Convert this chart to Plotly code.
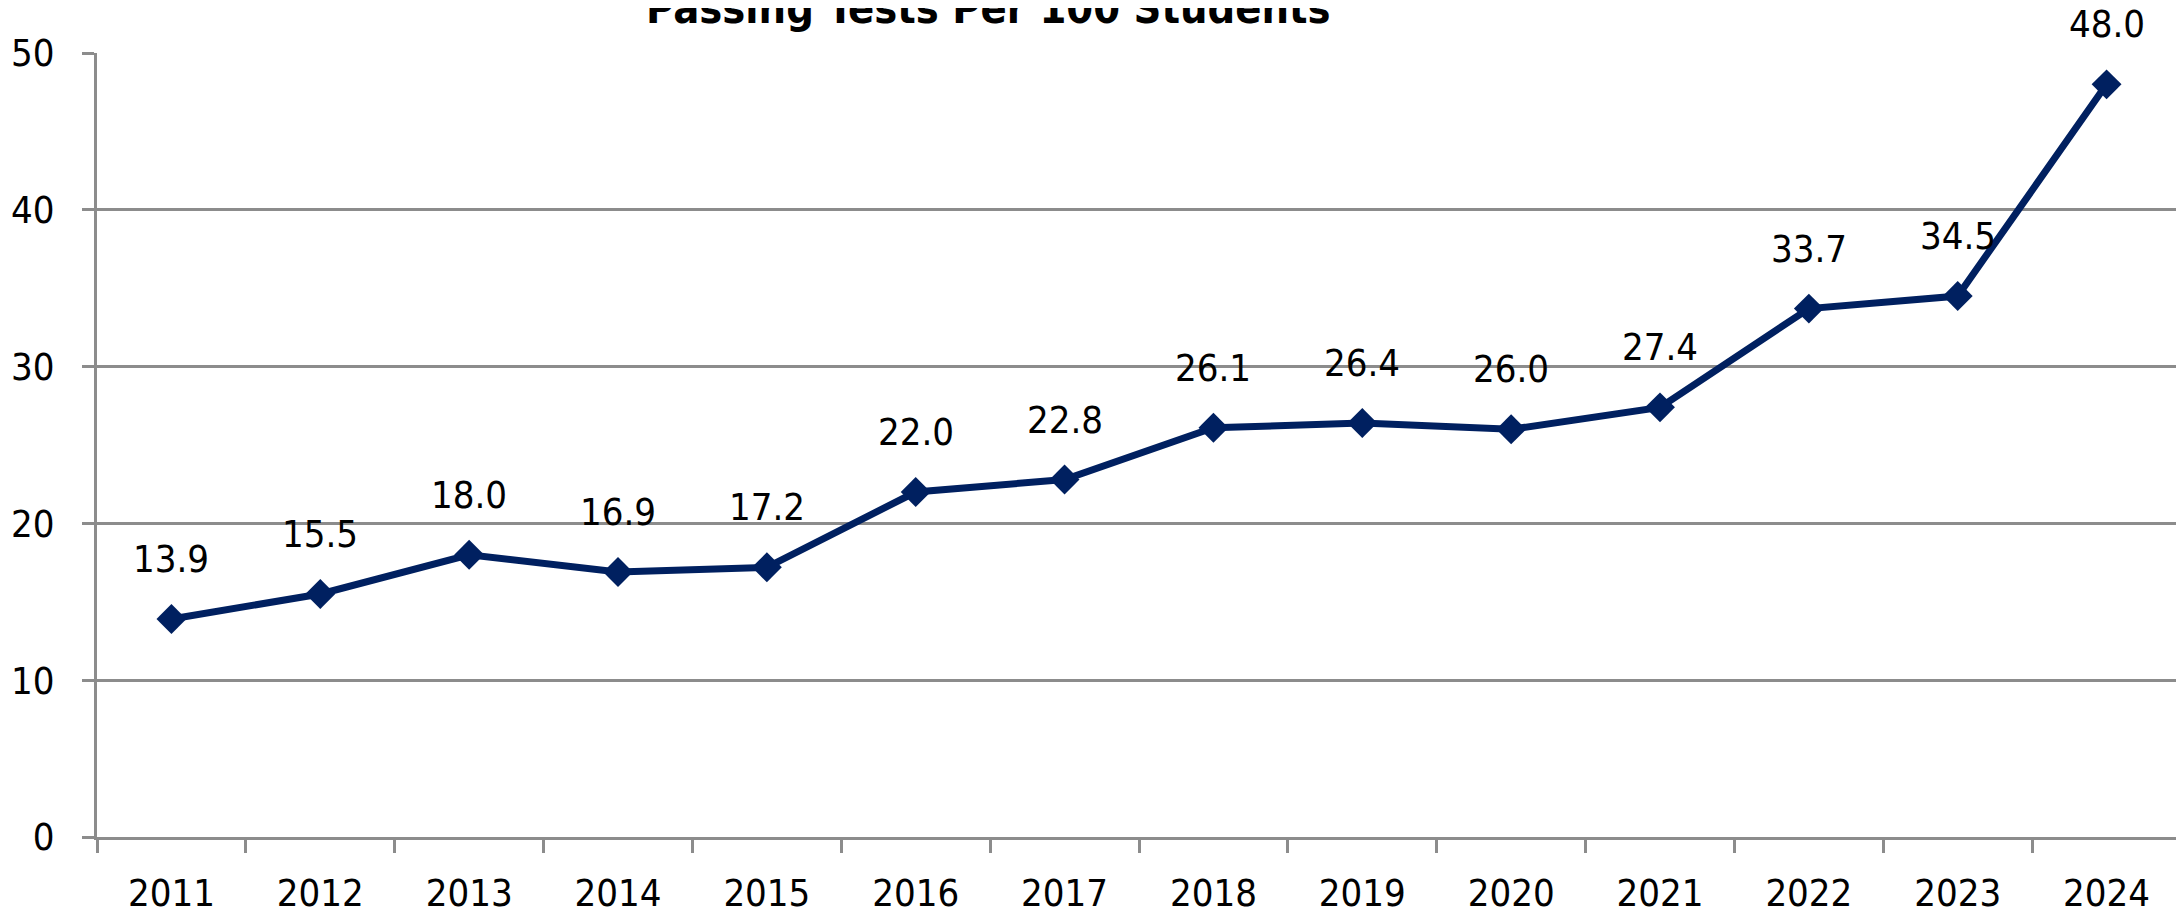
import plotly.graph_objects as go

years = ["2011", "2012", "2013", "2014", "2015", "2016", "2017",
         "2018", "2019", "2020", "2021", "2022", "2023", "2024"]
values = [13.9, 15.5, 18.0, 16.9, 17.2, 22.0, 22.8,
          26.1, 26.4, 26.0, 27.4, 33.7, 34.5, 48.0]
y_ticks = [0, 10, 20, 30, 40, 50]
title_text = "Passing Tests Per 100 Students"

FONT = "Liberation Sans Narrow, Arial Narrow, DejaVu Sans Condensed, sans-serif"
GRID = "#8c8c8c"
NAVY = "#002060"
FS = 38

fig = go.Figure()
fig.add_trace(go.Scatter(
    x=years, y=values, mode="lines+markers",
    line=dict(color=NAVY, width=7),
    marker=dict(symbol="diamond", size=23, color=NAVY),
    cliponaxis=False, showlegend=False,
))

for i, v in enumerate(values):
    fig.add_annotation(
        x=i, y=v, text=f"{v:.1f}", showarrow=False,
        xanchor="center", yanchor="bottom", yshift=37, borderpad=0,
        font=dict(family=FONT, size=FS, color="black"),
    )

fig.add_annotation(
    xref="paper", yref="paper", x=(988 - 97) / (2181 - 97), y=1,
    yshift=18, xanchor="center", yanchor="bottom",
    text="<b>" + title_text + "</b>", showarrow=False,
    font=dict(family=FONT, size=43, color="black"),
)

# page body has an 8px margin, so the figure is sized/offset to compensate
fig.update_layout(
    width=2176, height=909,
    margin=dict(l=89, r=3, t=45, b=80),
    paper_bgcolor="white", plot_bgcolor="white",
    font=dict(family=FONT, size=FS, color="black"),
    xaxis=dict(
        type="category", tickson="boundaries", automargin=False,
        showline=True, linecolor=GRID, linewidth=3,
        ticks="outside", ticklen=13, tickwidth=3, tickcolor=GRID,
        showgrid=False, tickfont=dict(size=FS, color="black"),
        range=[-0.5, len(years) - 0.5], ticklabelstandoff=20,
    ),
    yaxis=dict(
        range=[0, 50], tickvals=y_ticks, automargin=False,
        showline=True, linecolor=GRID, linewidth=3,
        ticks="outside", ticklen=12, tickwidth=3, tickcolor=GRID,
        showgrid=True, gridcolor=GRID, gridwidth=3,
        zeroline=False, tickfont=dict(size=FS, color="black"),
        ticklabelstandoff=20,
    ),
)

fig.write_html("out.html")
